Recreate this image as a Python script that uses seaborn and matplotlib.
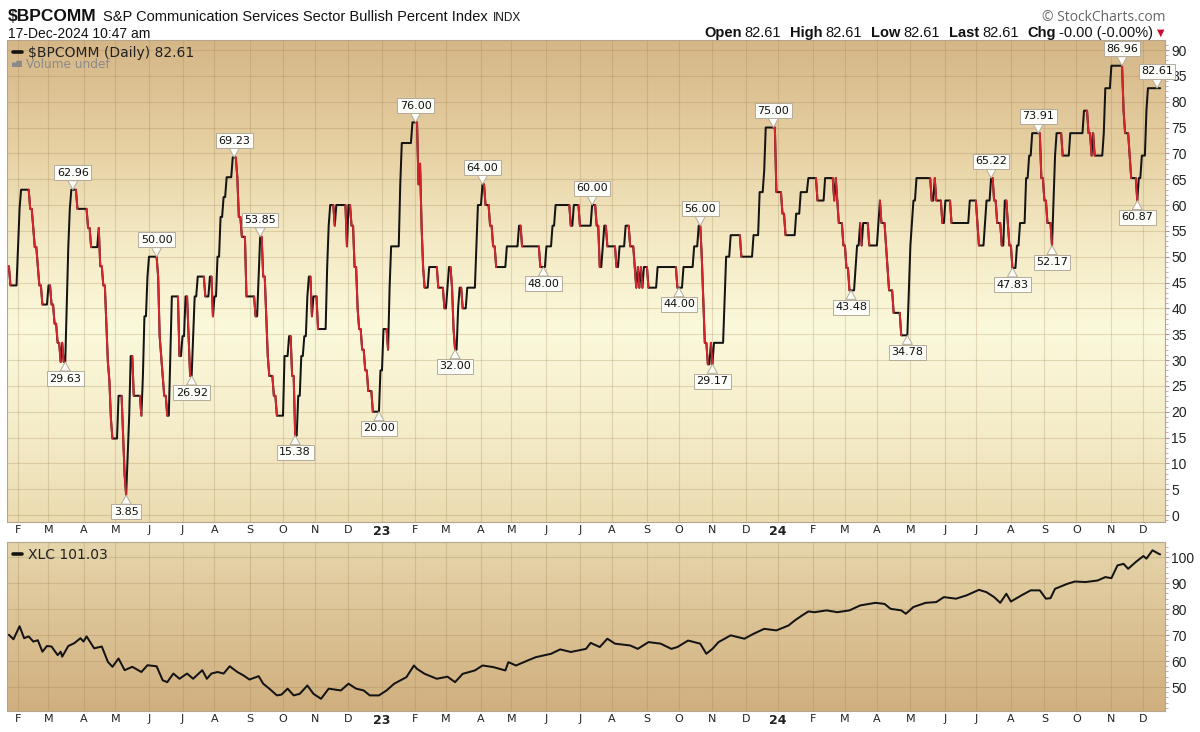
import numpy as np
import pandas as pd
import matplotlib
matplotlib.use("Agg")
import matplotlib.pyplot as plt
import seaborn as sns
from matplotlib.collections import LineCollection
from matplotlib.lines import Line2D
from matplotlib.ticker import MultipleLocator
from matplotlib.colors import to_rgb

sns.set_style("white")
plt.rcParams["font.family"] = ["DejaVu Sans"]

# ---------------- data ----------------
START, END = "2022-01-24", "2024-12-17"

bpi_dates = [
    "2022-01-24", "2022-01-25", "2022-02-01", "2022-02-02", "2022-02-03", "2022-02-11", "2022-02-15",
    "2022-02-16", "2022-02-18", "2022-02-21", "2022-02-23", "2022-03-01", "2022-03-03", "2022-03-07",
    "2022-03-09", "2022-03-11", "2022-03-14", "2022-03-15", "2022-03-17", "2022-03-18", "2022-03-21",
    "2022-03-22", "2022-03-28", "2022-04-06", "2022-04-08", "2022-04-15", "2022-04-18", "2022-04-20",
    "2022-04-22", "2022-04-25", "2022-04-26", "2022-04-27", "2022-04-28", "2022-05-04", "2022-05-09",
    "2022-05-10", "2022-05-11", "2022-05-12", "2022-05-13", "2022-05-16", "2022-05-18", "2022-05-25",
    "2022-05-26", "2022-05-27", "2022-05-31", "2022-06-01", "2022-06-09", "2022-06-10", "2022-06-13",
    "2022-06-14", "2022-06-15", "2022-06-17", "2022-06-21", "2022-06-22", "2022-06-29", "2022-07-01",
    "2022-07-05", "2022-07-07", "2022-07-08", "2022-07-12", "2022-07-13", "2022-07-15", "2022-07-22",
    "2022-07-27", "2022-07-29", "2022-08-01", "2022-08-03", "2022-08-05", "2022-08-09", "2022-08-11",
    "2022-08-17", "2022-08-22", "2022-08-23", "2022-08-25", "2022-08-30", "2022-09-07", "2022-09-09",
    "2022-09-12", "2022-09-14", "2022-09-16", "2022-09-19", "2022-09-20", "2022-09-23", "2022-09-27",
    "2022-10-04", "2022-10-07", "2022-10-11", "2022-10-13", "2022-10-17", "2022-10-19", "2022-10-21",
    "2022-10-25", "2022-10-26", "2022-10-28", "2022-10-31", "2022-11-03", "2022-11-11", "2022-11-14",
    "2022-11-15", "2022-11-18", "2022-11-21", "2022-11-30", "2022-12-01", "2022-12-05", "2022-12-07",
    "2022-12-09", "2022-12-12", "2022-12-14", "2022-12-16", "2022-12-20", "2022-12-23", "2022-12-30",
    "2023-01-03", "2023-01-06", "2023-01-09", "2023-01-10", "2023-01-18", "2023-01-19", "2023-01-30",
    "2023-02-03", "2023-02-06", "2023-02-07", "2023-02-08", "2023-02-09", "2023-02-14", "2023-02-22",
    "2023-02-28", "2023-03-02", "2023-03-03", "2023-03-07", "2023-03-08", "2023-03-09", "2023-03-13",
    "2023-03-14", "2023-03-16", "2023-03-21", "2023-03-29", "2023-03-30", "2023-04-04", "2023-04-06",
    "2023-04-11", "2023-04-13", "2023-04-17", "2023-04-26", "2023-05-08", "2023-05-10", "2023-05-26",
    "2023-06-01", "2023-06-07", "2023-06-09", "2023-06-23", "2023-06-27", "2023-07-03", "2023-07-13",
    "2023-07-18", "2023-07-20", "2023-07-24", "2023-07-25", "2023-07-27", "2023-08-04", "2023-08-08",
    "2023-08-14", "2023-08-17", "2023-08-22", "2023-08-23", "2023-08-24", "2023-08-25", "2023-08-28",
    "2023-08-29", "2023-08-30", "2023-09-04", "2023-09-12", "2023-09-29", "2023-10-05", "2023-10-16",
    "2023-10-19", "2023-10-23", "2023-10-24", "2023-10-25", "2023-10-27", "2023-10-31", "2023-11-01",
    "2023-11-02", "2023-11-13", "2023-11-14", "2023-11-17", "2023-11-28", "2023-12-08", "2023-12-14",
    "2023-12-19", "2023-12-20", "2023-12-29", "2024-01-04", "2024-01-08", "2024-01-17", "2024-01-22",
    "2024-01-29", "2024-02-06", "2024-02-13", "2024-02-21", "2024-02-22", "2024-02-23", "2024-02-26",
    "2024-02-29", "2024-03-04", "2024-03-06", "2024-03-12", "2024-03-13", "2024-03-15", "2024-03-18",
    "2024-03-19", "2024-03-25", "2024-04-02", "2024-04-03", "2024-04-04", "2024-04-09", "2024-04-10",
    "2024-04-11", "2024-04-16", "2024-04-23", "2024-04-30", "2024-05-01", "2024-05-02", "2024-05-03",
    "2024-05-07", "2024-05-21", "2024-05-23", "2024-05-24", "2024-05-30", "2024-06-03", "2024-06-07",
    "2024-06-25", "2024-07-02", "2024-07-03", "2024-07-09", "2024-07-10", "2024-07-15", "2024-07-17",
    "2024-07-19", "2024-07-24", "2024-07-26", "2024-07-30", "2024-07-31", "2024-08-02", "2024-08-07",
    "2024-08-09", "2024-08-15", "2024-08-19", "2024-08-21", "2024-08-29", "2024-09-02", "2024-09-04",
    "2024-09-09", "2024-09-10", "2024-09-11", "2024-09-12", "2024-09-18", "2024-09-25", "2024-10-08",
    "2024-10-11", "2024-10-15", "2024-10-16", "2024-10-17", "2024-10-25", "2024-10-28", "2024-11-01",
    "2024-11-13", "2024-11-14", "2024-11-19", "2024-11-20", "2024-11-26", "2024-11-27", "2024-11-29",
    "2024-12-04", "2024-12-05", "2024-12-17",
]
bpi_values = [
    48.15, 44.44, 51.85, 59.26, 62.96, 59.26, 55.56,
    51.85, 48.15, 44.44, 40.74, 44.44, 40.74, 37.04,
    33.33, 29.63, 33.33, 29.63, 40.74, 51.85, 59.26,
    62.96, 59.26, 55.56, 51.85, 55.56, 48.15, 44.44,
    37.04, 29.63, 25.93, 18.52, 14.81, 23.08, 15.38,
    7.69, 3.85, 11.54, 19.23, 30.77, 23.08, 19.23,
    26.92, 38.46, 46.15, 50.00, 46.15, 34.62, 30.77,
    26.92, 23.08, 19.23, 30.77, 42.31, 30.77, 34.62,
    42.31, 34.62, 26.92, 34.62, 42.31, 46.15, 42.31,
    46.15, 38.46, 42.31, 50.00, 57.69, 61.54, 65.38,
    69.23, 65.38, 57.69, 53.85, 42.31, 38.46, 46.15,
    53.85, 46.15, 38.46, 30.77, 26.92, 23.08, 19.23,
    30.77, 34.62, 26.92, 15.38, 23.08, 30.77, 34.62,
    42.31, 46.15, 38.46, 42.31, 36.00, 48.00, 56.00,
    60.00, 56.00, 60.00, 52.00, 60.00, 56.00, 48.00,
    40.00, 36.00, 32.00, 28.00, 24.00, 20.00, 28.00,
    36.00, 32.00, 44.00, 52.00, 64.00, 72.00, 76.00,
    64.00, 68.00, 56.00, 48.00, 44.00, 48.00, 44.00,
    40.00, 44.00, 48.00, 44.00, 36.00, 32.00, 40.00,
    44.00, 40.00, 44.00, 52.00, 60.00, 64.00, 60.00,
    56.00, 52.00, 48.00, 52.00, 56.00, 52.00, 48.00,
    52.00, 56.00, 60.00, 56.00, 60.00, 56.00, 60.00,
    56.00, 48.00, 52.00, 56.00, 52.00, 48.00, 52.00,
    56.00, 52.00, 48.00, 44.00, 48.00, 44.00, 48.00,
    44.00, 48.00, 44.00, 48.00, 44.00, 48.00, 52.00,
    56.00, 50.00, 41.67, 33.33, 29.17, 33.33, 29.17,
    33.33, 41.67, 50.00, 54.17, 50.00, 54.17, 62.50,
    66.67, 75.00, 62.50, 58.33, 54.17, 58.33, 62.50,
    65.22, 60.87, 65.22, 60.87, 65.22, 60.87, 56.52,
    52.17, 47.83, 43.48, 47.83, 52.17, 56.52, 52.17,
    56.52, 52.17, 56.52, 60.87, 56.52, 52.17, 47.83,
    43.48, 39.13, 34.78, 43.48, 52.17, 56.52, 60.87,
    65.22, 60.87, 65.22, 60.87, 56.52, 60.87, 56.52,
    60.87, 56.52, 52.17, 56.52, 60.87, 65.22, 60.87,
    56.52, 52.17, 60.87, 56.52, 52.17, 47.83, 52.17,
    56.52, 65.22, 69.57, 73.91, 65.22, 60.87, 56.52,
    52.17, 60.87, 69.57, 73.91, 69.57, 73.91, 78.26,
    73.91, 69.57, 73.91, 69.57, 73.91, 82.61, 86.96,
    78.26, 73.91, 69.57, 65.22, 60.87, 65.22, 69.57,
    78.26, 82.61, 82.61,
]

label_dates = [
    "2022-03-16", "2022-03-23", "2022-05-11", "2022-06-08", "2022-07-11", "2022-08-18", "2022-09-12",
    "2022-10-13", "2022-12-29", "2023-02-01", "2023-03-09", "2023-04-04", "2023-05-30", "2023-07-13",
    "2023-10-02", "2023-10-20", "2023-11-01", "2023-12-27", "2024-03-07", "2024-04-29", "2024-07-15",
    "2024-08-02", "2024-08-27", "2024-09-09", "2024-11-12", "2024-11-26", "2024-12-13",
]
label_sides = [-1, 1, -1, 1, -1, 1, 1,
               -1, -1, 1, -1, 1, -1, 1,
               -1, 1, -1, 1, -1, -1, 1,
               -1, 1, -1, 1, -1, 1]

xlc_dates = [
    "2022-01-24", "2022-01-27", "2022-02-02", "2022-02-07", "2022-02-10", "2022-02-15", "2022-02-18",
    "2022-02-23", "2022-02-28", "2022-03-03", "2022-03-09", "2022-03-11", "2022-03-14", "2022-03-18",
    "2022-03-24", "2022-03-30", "2022-04-01", "2022-04-05", "2022-04-12", "2022-04-19", "2022-04-25",
    "2022-04-28", "2022-05-04", "2022-05-10", "2022-05-17", "2022-05-25", "2022-05-31", "2022-06-08",
    "2022-06-14", "2022-06-17", "2022-06-23", "2022-06-29", "2022-07-06", "2022-07-12", "2022-07-20",
    "2022-07-25", "2022-07-28", "2022-08-03", "2022-08-09", "2022-08-15", "2022-08-22", "2022-08-26",
    "2022-09-01", "2022-09-09", "2022-09-14", "2022-09-20", "2022-09-27", "2022-09-30", "2022-10-06",
    "2022-10-12", "2022-10-18",
    "2022-10-25", "2022-10-31",
    "2022-11-07", "2022-11-14", "2022-11-24", "2022-12-01", "2022-12-08", "2022-12-15", "2022-12-21",
    "2022-12-29", "2023-01-05", "2023-01-12", "2023-01-24", "2023-01-31", "2023-02-02", "2023-02-09",
    "2023-02-21", "2023-03-02", "2023-03-09", "2023-03-16", "2023-03-28", "2023-04-04", "2023-04-13",
    "2023-04-25", "2023-04-27", "2023-05-04", "2023-05-16", "2023-05-23", "2023-06-06", "2023-06-14",
    "2023-06-23", "2023-07-07", "2023-07-12", "2023-07-20", "2023-07-27", "2023-08-03", "2023-08-17",
    "2023-08-24", "2023-09-04", "2023-09-14", "2023-09-25", "2023-09-29", "2023-10-10", "2023-10-20",
    "2023-10-26", "2023-11-01", "2023-11-07", "2023-11-17", "2023-11-24", "2023-11-30", "2023-12-08",
    "2023-12-19", "2023-12-29", "2024-01-10", "2024-01-16", "2024-01-23", "2024-01-29", "2024-02-02",
    "2024-02-14", "2024-02-23", "2024-03-06", "2024-03-15", "2024-03-29", "2024-04-08", "2024-04-12",
    "2024-04-23", "2024-04-26", "2024-05-03", "2024-05-15", "2024-05-24", "2024-05-31", "2024-06-12",
    "2024-06-21", "2024-07-03", "2024-07-10", "2024-07-17", "2024-07-23", "2024-07-29", "2024-08-01",
    "2024-08-12", "2024-08-20", "2024-08-28", "2024-09-03", "2024-09-06", "2024-09-11", "2024-09-23",
    "2024-09-30", "2024-10-09", "2024-10-21", "2024-10-28", "2024-11-01", "2024-11-07", "2024-11-13",
    "2024-11-18", "2024-11-25", "2024-12-02", "2024-12-04", "2024-12-10", "2024-12-16", "2024-12-17",
]
xlc_values = [
    70.1, 68.4, 73.4, 68.8, 69.5, 67.5, 68.0,
    63.6, 65.8, 65.6, 62.3, 63.6, 61.7, 65.8,
    66.9, 68.8, 67.5, 69.5, 64.9, 65.6, 59.7,
    57.8, 61.0, 56.5, 57.8, 55.8, 58.4, 58.0,
    52.6, 51.9, 55.2, 53.2, 55.2, 53.2, 56.5,
    53.2, 55.2, 55.8, 55.2, 58.0, 55.8, 54.5,
    52.9, 54.2, 51.3, 49.4, 46.8, 47.1, 49.4,
    46.8, 47.4,
    50.6, 47.4,
    45.5, 49.4, 48.7, 51.3, 49.4, 48.7, 46.8,
    46.8, 48.7, 51.3, 53.8, 58.3, 57.0, 55.1,
    53.2, 54.0, 51.9, 55.1, 56.4, 58.3, 57.7,
    56.4, 59.6, 58.3, 60.3, 61.5, 62.8, 64.5,
    63.5, 64.7, 67.0, 65.4, 68.6, 66.7, 66.0,
    64.7, 67.3, 66.7, 64.7, 65.4, 67.9, 66.7,
    62.8, 64.7, 67.3, 69.9, 69.2, 68.6, 70.5,
    72.4, 71.8, 73.7, 75.6, 77.6, 79.1, 78.8,
    79.5, 78.8, 79.5, 81.4, 82.4, 82.0, 80.1,
    79.5, 78.2, 80.8, 82.4, 82.7, 84.6, 84.0,
    85.3, 87.4, 86.5, 84.6, 82.4, 85.9, 82.9,
    85.3, 87.2, 87.2, 84.0, 84.2, 87.8, 89.7,
    90.6, 90.4, 91.0, 92.3, 91.9, 96.8, 97.4,
    95.5, 98.1, 100.4, 99.4, 102.6, 101.3, 101.03,
]

bpi_yticks = list(range(0, 91, 5))
xlc_yticks = list(range(50, 101, 10))

# ---------------- style ----------------
BLACK = "#141414"
RED = "#d3262f"
GRID = "#9c7c4c"
W, H = 1200, 732


def fx(px):
    return px / W


def fy(py):
    return 1 - py / H


def gradient(ax, stops):
    pos = np.linspace(0, 1, 400)
    fr = [p for p, _ in stops]
    cols = np.array([to_rgb(c) for _, c in stops])
    img = np.stack([np.interp(pos, fr, cols[:, k]) for k in range(3)], axis=1)[:, None, :]
    ax.imshow(img, extent=[0, 1, 0, 1], transform=ax.transAxes, aspect="auto",
              origin="upper", zorder=0, interpolation="bilinear")


fig = plt.figure(figsize=(12, 7.32), dpi=100)
fig.patch.set_facecolor("white")
ax1 = fig.add_axes([fx(7), fy(522), (1165 - 7) / W, (522 - 40) / H])
ax2 = fig.add_axes([fx(7), fy(711), (1165 - 7) / W, (711 - 542) / H])

days = pd.bdate_range(START, END)
t = np.arange(len(days))

s = pd.Series(bpi_values, index=pd.to_datetime(bpi_dates))
s = s[~s.index.duplicated(keep="last")]
bpi = s.reindex(s.index.union(days)).ffill().reindex(days)
df = pd.DataFrame({"t": t, "v": bpi.to_numpy()})

sns.lineplot(data=df, x="t", y="v", ax=ax1, color=BLACK, linewidth=1.45,
             estimator=None, sort=False, legend=False, zorder=3)
yv = df["v"].to_numpy()
pts = np.column_stack([t, yv])
segs = np.stack([pts[:-1], pts[1:]], axis=1)
falling = yv[1:] < yv[:-1]
ax1.add_collection(LineCollection(segs[falling], colors=RED, linewidths=1.45,
                                  zorder=4, capstyle="round"))

xs = pd.Series(xlc_values, index=pd.to_datetime(xlc_dates))
xdf = pd.DataFrame({"t": days.searchsorted(xs.index), "v": xs.to_numpy()})
sns.lineplot(data=xdf, x="t", y="v", ax=ax2, color=BLACK, linewidth=1.45,
             estimator=None, sort=False, legend=False, zorder=3)

gradient(ax1, [(0, "#d5b687"), (0.22, "#e6d0a2"), (0.42, "#f4eac5"), (0.6, "#fbf9dc"),
               (0.8, "#f5edca"), (1.0, "#ebdbb0")])
gradient(ax2, [(0, "#e6d5ab"), (1.0, "#d0af7e")])

# month ticks
month_starts = pd.date_range("2022-02-01", "2024-12-01", freq="MS")
mpos = days.searchsorted(month_starts)
mlab = [f"{m.year % 100:02d}" if m.month == 1 else "JFMAMJJASOND"[m.month - 1] for m in month_starts]

for ax, yt, ylim, minor in [(ax1, bpi_yticks, (-1.35, 91.94), 1), (ax2, xlc_yticks, (40.8, 105.8), 2)]:
    ax.set_xticks(mpos)
    ax.set_xticklabels(mlab)
    ax.tick_params(axis="x", length=0, pad=2.5, labelsize=8, labelcolor="#222222")
    for lbl in ax.get_xticklabels():
        if lbl.get_text().isdigit():
            lbl.set_fontweight("bold")
            lbl.set_fontsize(9)
    ax.yaxis.tick_right()
    ax.set_yticks(yt)
    ax.yaxis.set_minor_locator(MultipleLocator(minor))
    ax.tick_params(axis="y", which="major", length=3, width=0.8, color="#b48a8a", pad=1.5,
                   labelsize=10, labelcolor="#222222", labelfontfamily="Liberation Sans")
    ax.tick_params(axis="y", which="minor", length=1.8, width=0.6, color="#cc9a9a")
    ax.grid(True, which="major", color=GRID, alpha=0.25, linewidth=0.8)
    ax.set_axisbelow(True)
    for sp in ax.spines.values():
        sp.set_color("#b5a58c")
        sp.set_linewidth(0.8)
    ax.set_xlabel("")
    ax.set_ylabel("")
    ax.set_xlim(-1.25, 759.2)
    ax.set_ylim(*ylim)

# callout labels
for d, side in zip(label_dates, label_sides):
    i = int(days.searchsorted(pd.Timestamp(d)))
    v = yv[i]
    ax1.annotate(f"{v:.2f}", xy=(i, v), xytext=(0, 8.5 * side), textcoords="offset points",
                 ha="center", va="bottom" if side > 0 else "top", fontsize=8,
                 family="DejaVu Sans", color="#111111", zorder=6, annotation_clip=False,
                 bbox=dict(boxstyle="square,pad=0.22", fc="#fcfcf8", ec="#b5ab9a", lw=0.7),
                 arrowprops=dict(arrowstyle="wedge,tail_width=0.9,shrink_factor=0.5",
                                 fc="#fcfcf8", ec="#b5ab9a", lw=0.7, shrinkA=0, shrinkB=0))

# panel legends
leg_kw = dict(loc="upper left", bbox_to_anchor=(0.0, 1.0), frameon=False, handlelength=0.65,
              handletextpad=0.45, borderaxespad=0.15, borderpad=0.25,
              prop={"family": "DejaVu Sans", "size": 10}, labelcolor="#222222")
ax1.legend(handles=[Line2D([], [], color=BLACK, lw=2.6)],
           labels=[f"$BPCOMM (Daily) {bpi_values[-1]:.2f}"], **leg_kw)
ax1.text((11 - 7) / 1158, 1 - (64 - 40) / 482, "▅▇", transform=ax1.transAxes, fontsize=5,
         color="#8a8a8a", va="center", ha="left", family="DejaVu Sans")
ax1.text((26 - 7) / 1158, 1 - (64 - 40) / 482, "Volume undef", transform=ax1.transAxes,
         fontsize=8.7, color="#8a8a8a", va="center", ha="left", family="DejaVu Sans")
ax2.legend(handles=[Line2D([], [], color=BLACK, lw=2.6)],
           labels=[f"XLC {xlc_values[-1]:.2f}"], **leg_kw)

# header
r = fig.canvas.get_renderer()


def put(xpx, ypx, s, **kw):
    tx = fig.text(fx(xpx), fy(ypx), s, va="baseline", **kw)
    return tx, tx.get_window_extent(renderer=r)


_, bb = put(8, 21, "$BPCOMM", fontsize=12.5, fontweight="bold", family="Liberation Sans", color="#111111")
_, bb = put(bb.x1 + 6, 21, "S&P Communication Services Sector Bullish Percent Index",
            fontsize=10.5, family="Liberation Sans", color="#111111")
put(bb.x1 + 6, 21, "INDX", fontsize=8.5, family="Liberation Sans", color="#111111")
put(8, 38, "17-Dec-2024 10:47 am", fontsize=10, family="Liberation Sans", color="#111111")
put(1165, 21, "© StockCharts.com", fontsize=10, family="Open Sans", color="#666666", ha="right")

last = f"{bpi_values[-1]:.2f}"
pieces = [("Open", True, 3), (last, False, 9), ("High", True, 3), (last, False, 9),
          ("Low", True, 3), (last, False, 9), ("Last", True, 3), (last, False, 9),
          ("Chg", True, 3), ("-0.00 (-0.00%)", False, 0)]
texts = []
total = 0
for s_, bold, gap in pieces:
    tx, bb = put(0, 37, s_, fontsize=10.5, family="Liberation Sans", color="#111111",
                 fontweight="bold" if bold else "normal")
    texts.append((tx, bb.width, gap))
    total += bb.width + gap
xcur = 1153 - total
for tx, w, gap in texts:
    tx.set_x(fx(xcur))
    xcur += w + gap
put(1157, 36, "▼", fontsize=7, family="DejaVu Sans", color="#c8102e")

fig.savefig("out.png", dpi=100, facecolor="white")
